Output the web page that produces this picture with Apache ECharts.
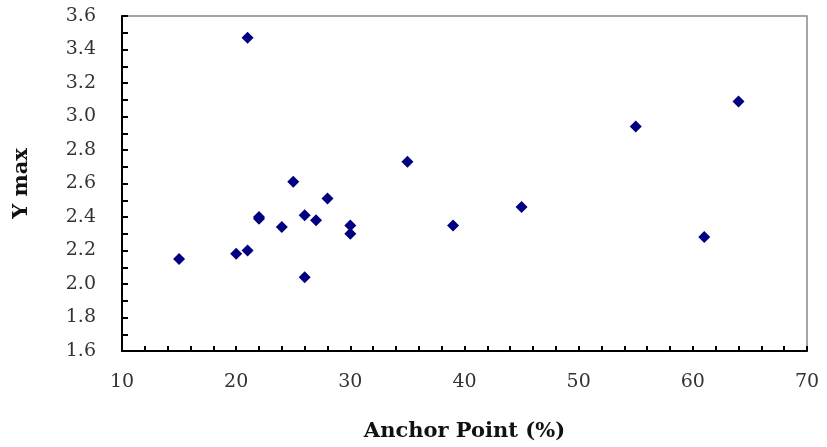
<!DOCTYPE html>
<html>
<head>
<meta charset="utf-8">
<script src="https://cdn.jsdelivr.net/npm/echarts@6/dist/echarts.min.js"></script>
<style>
  html, body { margin: 0; padding: 0; background: #fff; }
  #chart { width: 827px; height: 447px; }
</style>
</head>
<body>
<div id="chart"></div>
<script>
  // Anchor point (%) vs. Y max
  const anchorPoint = [15, 20, 21, 21, 22, 22, 24, 25, 26, 26, 27, 28, 30, 30, 35, 39, 45, 55, 61, 64];
  const yMax = [2.15, 2.18, 2.20, 3.47, 2.39, 2.40, 2.34, 2.61, 2.41, 2.04, 2.38, 2.51, 2.35, 2.30, 2.73, 2.35, 2.46, 2.94, 2.28, 3.09];

  const points = anchorPoint.map((x, i) => [x, yMax[i]]);

  const chart = echarts.init(document.getElementById('chart'));

  const labelFont = { color: '#333', fontSize: 19, fontFamily: 'DejaVu Serif, serif' };
  const nameFont = { color: '#111', fontSize: 21, fontWeight: 'bold', fontFamily: 'DejaVu Serif, serif' };

  // ticks every 2 on x and every 0.1 on y, labels only on the major steps
  const isMult = (v, step) => Math.abs(v / step - Math.round(v / step)) < 1e-6;

  chart.setOption({
    animation: false,
    grid: {
      left: 122, right: 20, top: 16, bottom: 95,
      show: true, borderColor: '#888', borderWidth: 1.5, backgroundColor: '#fff'
    },
    xAxis: {
      type: 'value',
      min: 10, max: 70, interval: 2,
      name: 'Anchor Point (%)',
      nameLocation: 'middle',
      nameGap: 70,
      nameTextStyle: nameFont,
      axisLine: { show: true, onZero: false, lineStyle: { color: '#000', width: 2 } },
      axisTick: { show: true, inside: true, length: 5, lineStyle: { color: '#000', width: 2 } },
      axisLabel: Object.assign({ margin: 22, formatter: v => isMult(v, 10) ? String(v) : '' }, labelFont),
      splitLine: { show: false }
    },
    yAxis: {
      type: 'value',
      min: 1.6, max: 3.6, interval: 0.1,
      name: 'Y max',
      nameLocation: 'middle',
      nameGap: 90,
      nameTextStyle: nameFont,
      axisLine: { show: true, onZero: false, lineStyle: { color: '#000', width: 2 } },
      axisTick: { show: true, inside: true, length: 6, lineStyle: { color: '#000', width: 2 } },
      axisLabel: Object.assign({ margin: 26, formatter: v => isMult(v, 0.2) ? v.toFixed(1) : '' }, labelFont),
      splitLine: { show: false }
    },
    series: [{
      type: 'scatter',
      data: points,
      symbol: 'diamond',
      symbolSize: 12,
      itemStyle: { color: '#000080', opacity: 1 }
    }]
  });
</script>
</body>
</html>
